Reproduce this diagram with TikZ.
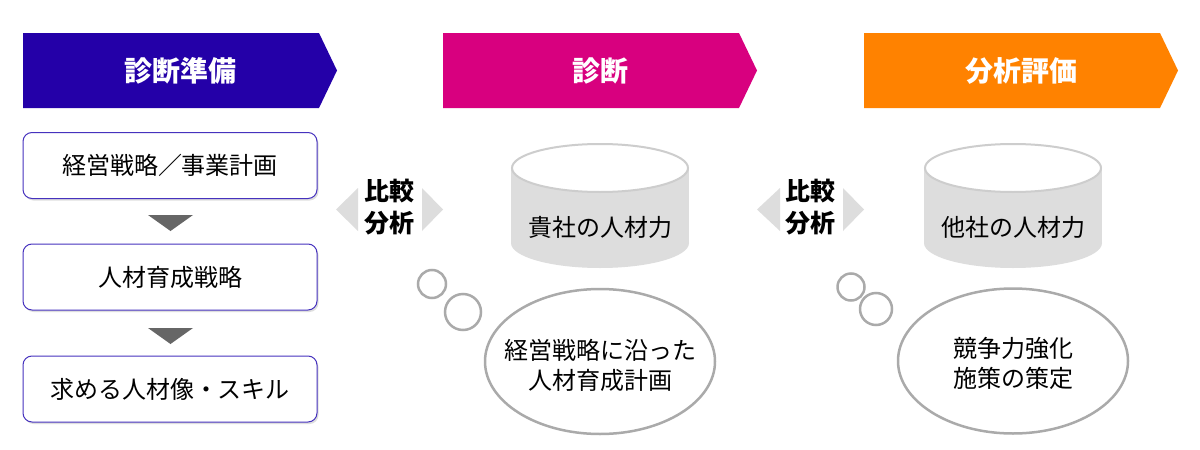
\documentclass[tikz,border=0pt]{standalone}
\usepackage{fontspec}
\setmainfont{Noto Sans CJK JP}
\usetikzlibrary{shapes.geometric,shadows}
\definecolor{hdA}{RGB}{36,0,168}
\definecolor{hdB}{RGB}{216,0,127}
\definecolor{hdC}{RGB}{255,130,0}
\definecolor{boxline}{RGB}{70,50,190}
\definecolor{cylfill}{RGB}{221,221,221}
\definecolor{cyledge}{RGB}{205,205,205}
\definecolor{bubble}{RGB}{170,170,170}
\definecolor{tri}{RGB}{102,102,102}
\definecolor{lighttri}{RGB}{221,221,221}
\begin{document}
\begin{tikzpicture}[x=1pt,y=-1pt,
  hdtext/.style={text=white,font=\fontsize{28}{32}\selectfont\bfseries,inner sep=0pt},
  stepbox/.style={draw=boxline,line width=1pt,rounded corners=9pt,fill=white,
    minimum width=294pt,minimum height=66pt,inner sep=0pt,
    font=\fontsize{24}{28}\selectfont,
    drop shadow={shadow xshift=1.5pt,shadow yshift=-2pt,fill=black!25}},
  cmptext/.style={font=\fontsize{25}{32}\selectfont\bfseries,align=center,inner sep=0pt},
  cyltext/.style={font=\fontsize{24}{28}\selectfont,inner sep=0pt},
  thought/.style={ellipse,draw=bubble,line width=2.5pt,fill=white,
    minimum width=230pt,minimum height=145pt,inner sep=0pt},
  thtext/.style={align=center,inner sep=0pt,font=\fontsize{24}{30}\selectfont},
  puff/.style={circle,draw=bubble,line width=2.5pt,inner sep=0pt},
]
\useasboundingbox (0,0) rectangle (1200,450);
\fill[white] (0,0) rectangle (1200,450);

% headers
\fill[hdA] (23,33) -- (319,33) -- (337,70.5) -- (319,108) -- (23,108) -- cycle;
\node[hdtext] (h1) at (180,70.5) {診断準備};
\fill[hdB] (443,33) -- (739,33) -- (757,70.5) -- (739,108) -- (443,108) -- cycle;
\node[hdtext] (h2) at (600,70.5) {診断};
\fill[hdC] (864,33) -- (1160,33) -- (1178,70.5) -- (1160,108) -- (864,108) -- cycle;
\node[hdtext] (h3) at (1021,70.5) {分析評価};

% left column
\node[stepbox] (b1) at (170,165.5) {経営戦略／事業計画};
\node[stepbox] (b2) at (170,277) {人材育成戦略};
\node[stepbox] (b3) at (170,389) {求める人材像・スキル};
\fill[tri] (148,215) -- (193,215) -- (170.5,231) -- cycle;
\fill[tri] (148,328) -- (193,328) -- (170.5,344) -- cycle;

% compare labels
\node[cmptext] (c1) at (389,207) {比較\\分析};
\fill[lighttri] (358,188) -- (336,209.5) -- (358,231) -- cycle;
\fill[lighttri] (422,188) -- (443,209.5) -- (422,231) -- cycle;
\node[cmptext] (c2) at (810,207) {比較\\分析};
\fill[lighttri] (780,188) -- (757,209.5) -- (780,231) -- cycle;
\fill[lighttri] (843,188) -- (864,209.5) -- (843,231) -- cycle;

% cylinders
\fill[cylfill] (511,168) rectangle (689,243);
\fill[cylfill] (600,243) ellipse [x radius=89, y radius=25];
\filldraw[fill=white,draw=cyledge,line width=2pt] (600,168) ellipse [x radius=88, y radius=24];
\node[cyltext] (cy1) at (600,227) {貴社の人材力};

\fill[cylfill] (924,168) rectangle (1102,243);
\fill[cylfill] (1013,243) ellipse [x radius=89, y radius=25];
\filldraw[fill=white,draw=cyledge,line width=2pt] (1013,168) ellipse [x radius=88, y radius=24];
\node[cyltext] (cy2) at (1013,227) {他社の人材力};

% thoughts
\node[puff,minimum size=28pt] (p1) at (432,284) {};
\node[puff,minimum size=36pt] (p2) at (463,312) {};
\node[thought] (t1) at (600,361.5) {};
\node[thtext] (t1x) at (600,365) {経営戦略に沿った\\人材育成計画};

\node[puff,minimum size=27pt] (p3) at (851,287) {};
\node[puff,minimum size=32pt] (p4) at (876,309) {};
\node[thought] (t2) at (1013,361) {};
\node[thtext] (t2x) at (1013,363) {競争力強化\\施策の策定};
\end{tikzpicture}
\end{document}
